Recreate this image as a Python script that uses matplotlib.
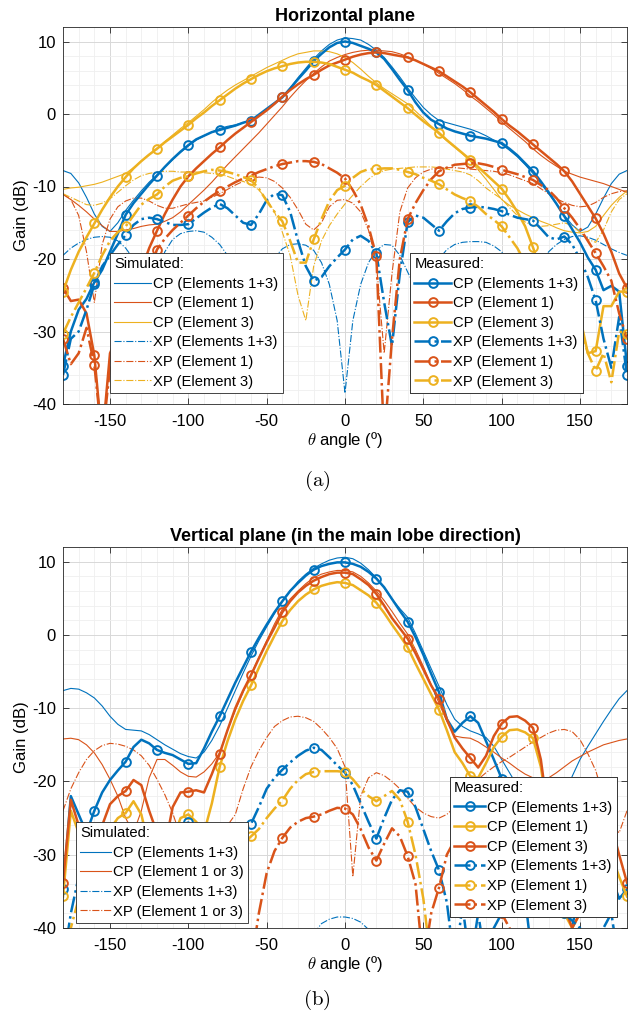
import numpy as np
import matplotlib
matplotlib.use('Agg')
import matplotlib.pyplot as plt
from matplotlib.ticker import MultipleLocator

plt.rcParams['font.family'] = ['Liberation Sans', 'DejaVu Sans']
plt.rcParams['mathtext.fontset'] = 'cm'
plt.rcParams['axes.unicode_minus'] = False

# angle grid, 5 deg steps from -180 to 180
theta = np.arange(-180, 181, 5)

# ---------------- Horizontal plane ----------------
sim_cp13_h = [-7.8, -8.2, -9.5, -11.5, -13.8, -15.5, -16.2, -15.0, -13.3,
              -11.9, -10.6, -9.4, -8.4, -7.3, -6.3, -5.3, -4.4, -3.6,
              -3.0, -2.5, -2.0, -1.7, -1.5, -1.2, -0.9, -0.2, 0.6,
              1.4, 2.4, 3.6, 5.0, 6.3, 7.6, 8.7, 9.6, 10.2,
              10.5, 10.4, 10.2, 9.6, 8.8, 7.8, 6.5, 5.1, 3.6,
              2.2, 0.9, -0.1, -0.9, -1.2, -1.5, -1.8, -2.1, -2.5,
              -3.0, -3.6, -4.2, -5.0, -5.9, -7.0, -8.2, -9.6, -11.0,
              -12.4, -14.0, -15.3, -16.2, -15.6, -13.8, -11.6, -9.6, -8.3,
              -7.8]
sim_cp1_h = [-11.1, -11.8, -12.6, -13.5, -14.5, -15.4, -16.2, -16.2, -16.0,
             -15.8, -15.5, -15.3, -15.2, -14.8, -14.3, -13.5, -12.5, -11.5,
             -10.5, -9.4, -8.2, -7.0, -5.9, -4.8, -3.7, -2.6, -1.4,
             -0.2, 1.0, 2.3, 3.5, 4.6, 5.6, 6.5, 7.3, 7.8,
             8.2, 8.5, 8.7, 8.8, 8.8, 8.7, 8.6, 8.3, 7.9,
             7.4, 6.9, 6.3, 5.6, 4.9, 4.2, 3.4, 2.5, 1.7,
             0.8, -0.1, -1.1, -2.0, -2.9, -3.8, -4.8, -5.7, -6.5,
             -7.2, -7.9, -8.3, -8.7, -9.0, -9.3, -9.6, -10.0, -10.4,
             -10.8]
sim_cp3_h = [-10.4, -10.2, -10.1, -9.9, -9.7, -9.4, -9.0, -8.6, -8.2,
             -7.4, -6.5, -5.6, -4.7, -3.8, -2.9, -2.0, -1.2, -0.3,
             0.6, 1.6, 2.5, 3.3, 4.0, 4.6, 5.2, 5.8, 6.4,
             6.9, 7.4, 7.9, 8.3, 8.5, 8.7, 8.7, 8.6, 8.3,
             7.8, 7.1, 6.2, 5.2, 4.3, 3.5, 2.8, 2.1, 1.4,
             0.4, -0.6, -1.7, -2.8, -3.7, -4.6, -5.5, -6.5, -7.7,
             -9.0, -10.4, -11.8, -12.6, -13.2, -13.8, -14.3, -14.8, -15.2,
             -15.7, -16.1, -16.3, -16.4, -16.2, -15.5, -14.0, -12.6, -11.5,
             -10.6]
sim_xp13_h = [-19.5, -18.5, -17.8, -17.3, -17.0, -16.9, -17.0, -17.5, -18.5,
              -20.0, -22.5, -24.0, -22.0, -19.0, -17.3, -16.5, -16.2, -16.1,
              -16.3, -17.0, -18.0, -19.5, -21.5, -24.0, -26.0, -25.0, -22.0,
              -19.8, -18.6, -18.0, -17.9, -18.1, -18.8, -20.5, -23.5, -28.5,
              -38.5, -28.5, -23.5, -20.5, -18.8, -18.0, -18.1, -19.5, -21.8,
              -24.0, -24.5, -22.0, -20.0, -18.7, -18.0, -17.7, -17.6, -17.6,
              -17.7, -18.2, -19.0, -20.5, -22.0, -23.0, -22.0, -20.5, -19.0,
              -18.0, -17.3, -16.9, -16.8, -17.0, -17.4, -18.0, -18.6, -19.1,
              -19.5]
sim_xp1_h = [-11.0, -11.8, -14.0, -19.0, -26.0, -18.0, -14.5, -12.8, -12.0,
             -11.6, -11.6, -12.0, -12.6, -13.0, -13.0, -12.7, -12.4, -12.2,
             -12.0, -11.5, -11.0, -10.4, -9.8, -9.3, -8.9, -8.7, -8.8,
             -9.3, -10.2, -11.5, -13.2, -15.2, -16.0, -15.0, -12.8, -11.9,
             -11.8, -12.3, -13.5, -16.0, -20.5, -33.0, -22.0, -13.5, -10.2,
             -8.8, -8.0, -7.6, -7.5, -7.4, -7.4, -7.5, -7.6, -7.7,
             -7.8, -7.9, -8.1, -8.4, -8.8, -9.2, -9.6, -10.3, -11.0,
             -11.7, -12.2, -12.6, -12.8, -12.7, -12.2, -11.5, -11.0, -10.7,
             -10.6]
sim_xp3_h = [-11.0, -11.5, -12.0, -12.5, -12.6, -12.3, -11.7, -10.8, -9.9,
             -9.1, -8.5, -8.2, -8.0, -7.9, -7.9, -8.0, -8.0, -8.0,
             -8.1, -8.2, -8.3, -8.6, -9.0, -9.3, -9.7, -10.5, -11.7,
             -13.5, -16.3, -19.5, -25.0, -28.5, -21.0, -17.5, -15.4, -13.8,
             -12.4, -11.2, -10.0, -9.0, -8.2, -7.8, -7.6, -7.5, -7.4,
             -7.3, -7.3, -7.3, -7.4, -7.6, -7.8, -8.0, -8.4, -9.2,
             -10.2, -11.0, -11.7, -12.9, -14.0, -14.9, -15.4, -15.5, -15.4,
             -15.2, -15.0, -15.4, -16.3, -17.3, -17.7, -16.0, -13.5, -11.8,
             -11.0]
meas_cp13_h = [-34.7, -30.0, -27.0, -25.5, -23.2, -21.5, -19.0, -16.5, -13.9,
               -12.3, -11.0, -9.7, -8.5, -7.3, -6.2, -5.2, -4.3, -3.5,
               -3.0, -2.5, -2.2, -1.9, -1.6, -1.2, -0.9, -0.1, 0.7,
               1.5, 2.3, 3.5, 4.8, 6.0, 7.3, 8.3, 9.2, 9.8,
               10.0, 9.8, 9.4, 9.0, 8.5, 7.6, 6.2, 4.7, 3.3,
               1.6, 0.2, -0.8, -1.4, -2.0, -2.4, -2.7, -3.0, -3.2,
               -3.4, -3.7, -4.0, -4.8, -5.7, -6.8, -7.9, -9.3, -10.8,
               -12.4, -14.1, -15.9, -17.7, -19.8, -21.5, -24.3, -23.7, -24.5,
               -34.7]
meas_cp1_h = [-24.0, -25.8, -25.6, -27.5, -33.3, -45.0, -33.0, -30.5, -28.0,
              -25.0, -21.5, -18.5, -16.1, -13.8, -11.8, -10.0, -8.6, -7.5,
              -6.5, -5.5, -4.6, -3.6, -2.7, -1.9, -1.1, -0.3, 0.5,
              1.4, 2.4, 3.3, 4.1, 4.8, 5.4, 6.1, 6.7, 7.1,
              7.5, 7.9, 8.2, 8.4, 8.5, 8.4, 8.2, 8.0, 7.8,
              7.4, 6.9, 6.4, 5.9, 5.2, 4.5, 3.8, 3.0, 2.1,
              1.2, 0.3, -0.7, -1.6, -2.4, -3.3, -4.2, -5.1, -6.0,
              -6.9, -7.9, -9.3, -11.0, -12.7, -14.4, -16.5, -19.0, -22.0,
              -24.0]
meas_cp3_h = [-24.5, -21.5, -19.0, -17.0, -15.1, -13.2, -11.5, -10.0, -8.7,
              -7.5, -6.5, -5.6, -4.8, -3.9, -3.1, -2.3, -1.5, -0.6,
              0.2, 1.1, 1.9, 2.7, 3.5, 4.2, 4.8, 5.4, 5.9,
              6.3, 6.6, 6.9, 7.1, 7.2, 7.2, 7.1, 6.9, 6.5,
              6.1, 5.7, 5.1, 4.6, 4.0, 3.2, 2.4, 1.6, 0.8,
              -0.1, -1.0, -1.8, -2.6, -3.6, -4.5, -5.4, -6.3, -7.3,
              -8.3, -9.3, -10.3, -11.8, -13.5, -15.5, -18.4, -21.5, -24.6,
              -25.5, -26.0, -27.0, -28.0, -33.0, -32.7, -26.5, -26.5, -24.5,
              -24.5]
meas_xp13_h = [-36.0, -31.0, -30.0, -27.0, -23.5, -21.0, -19.5, -18.0, -16.7,
               -15.3, -14.5, -14.3, -14.5, -14.9, -15.3, -15.3, -15.2, -14.4,
               -13.6, -12.9, -12.4, -13.0, -14.0, -15.0, -15.3, -13.8, -11.9,
               -11.0, -11.2, -13.5, -17.5, -21.0, -23.0, -22.5, -21.0, -19.8,
               -18.7, -17.3, -16.8, -17.5, -19.2, -26.0, -32.0, -22.0, -14.9,
               -14.0, -14.3, -15.2, -16.1, -14.8, -13.7, -13.1, -12.9, -12.8,
               -12.9, -13.1, -13.4, -13.9, -14.3, -14.5, -14.7, -15.8, -17.0,
               -17.3, -16.9, -18.0, -20.0, -22.5, -25.7, -31.0, -35.0, -28.0,
               -36.0]
meas_xp1_h = [-31.0, -34.5, -33.0, -29.5, -34.6, -45.0, -35.0, -30.0, -27.0,
              -25.0, -23.0, -21.5, -18.7, -17.2, -16.0, -15.0, -14.0, -13.0,
              -12.1, -11.3, -10.6, -10.0, -9.4, -8.9, -8.5, -8.0, -7.6,
              -7.2, -6.9, -6.7, -6.5, -6.5, -6.6, -6.9, -7.5, -8.1,
              -8.9, -10.5, -12.5, -15.5, -19.6, -45.0, -31.0, -20.0, -14.5,
              -12.3, -10.5, -9.0, -7.9, -7.4, -7.0, -6.9, -6.8, -6.8,
              -7.0, -7.3, -7.7, -8.0, -8.3, -8.7, -9.1, -9.8, -10.5,
              -11.6, -13.0, -14.3, -15.8, -17.5, -19.2, -21.0, -23.0, -27.5,
              -31.0]
meas_xp3_h = [-30.3, -28.0, -26.0, -24.0, -21.9, -19.5, -17.5, -16.3, -15.5,
              -14.0, -12.5, -11.7, -11.1, -10.0, -9.2, -8.8, -8.6, -8.2,
              -7.9, -7.7, -7.8, -8.0, -8.3, -8.7, -9.1, -10.3, -12.0,
              -13.5, -14.8, -17.5, -20.5, -20.5, -17.3, -14.5, -12.0, -10.5,
              -9.9, -8.8, -8.0, -7.6, -7.6, -7.5, -7.5, -7.7, -8.0,
              -8.3, -8.8, -9.2, -9.7, -10.4, -11.1, -11.6, -12.0, -12.8,
              -13.8, -14.6, -15.5, -17.0, -18.5, -20.5, -22.5, -24.0, -25.0,
              -26.0, -27.0, -28.0, -29.0, -33.0, -35.4, -33.0, -37.0, -30.0,
              -30.3]

# ---------------- Vertical plane ----------------
sim_cp13_v = [-7.6, -7.3, -7.4, -7.9, -8.6, -9.7, -11.1, -12.2, -12.9,
              -13.0, -13.1, -13.6, -14.3, -15.0, -15.6, -16.2, -16.6, -16.8,
              -16.0, -14.4, -12.4, -10.0, -7.6, -5.2, -2.9, -0.8, 1.1,
              2.9, 4.6, 6.0, 7.3, 8.3, 9.1, 9.7, 10.2, 10.5,
              10.6, 10.4, 9.8, 8.9, 7.8, 6.4, 4.9, 3.6, 2.4,
              0.2, -2.2, -4.6, -7.0, -9.5, -11.5, -12.5, -13.1, -13.5,
              -14.0, -15.2, -17.0, -18.8, -20.6, -23.0, -27.0, -32.0, -38.0,
              -28.0, -22.5, -19.3, -17.0, -15.2, -13.5, -11.8, -10.2, -8.7,
              -7.6]
sim_cp1or3_v = [-14.2, -14.1, -14.3, -15.0, -16.1, -17.7, -19.7, -22.0, -25.0,
                -27.0, -24.0, -19.5, -17.0, -17.0, -17.8, -18.7, -19.3, -19.4,
                -18.7, -17.6, -16.1, -13.0, -10.3, -7.8, -5.4, -3.1, -0.8,
                1.5, 3.5, 4.9, 6.0, 7.0, 7.8, 8.3, 8.6, 8.8,
                8.8, 8.6, 8.0, 7.1, 6.0, 4.7, 3.2, 1.6, 0.1,
                -2.0, -4.3, -6.8, -9.3, -11.8, -13.8, -14.0, -14.1, -14.6,
                -15.3, -16.0, -16.8, -17.5, -18.3, -19.0, -19.5, -19.7, -19.5,
                -18.8, -18.0, -17.2, -16.6, -16.0, -15.5, -15.0, -14.7, -14.4,
                -14.2]
sim_xp13_v = [-45.0, -45.0, -45.0, -45.0, -45.0, -45.0, -45.0, -45.0, -45.0,
              -45.0, -45.0, -45.0, -45.0, -45.0, -45.0, -45.0, -45.0, -45.0,
              -45.0, -45.0, -45.0, -45.0, -45.0, -45.0, -45.0, -45.0, -45.0,
              -45.0, -45.0, -45.0, -45.0, -44.0, -40.8, -39.4, -38.8, -38.5,
              -38.5, -38.7, -39.2, -40.2, -42.0, -45.0, -45.0, -45.0, -45.0,
              -45.0, -45.0, -45.0, -45.0, -45.0, -45.0, -45.0, -45.0, -45.0,
              -45.0, -45.0, -45.0, -45.0, -45.0, -45.0, -45.0, -45.0, -45.0,
              -45.0, -45.0, -45.0, -45.0, -45.0, -45.0, -45.0, -45.0, -45.0,
              -45.0]
sim_xp1or3_v = [-24.0, -21.0, -18.8, -17.0, -15.8, -15.1, -14.8, -14.9, -15.2,
                -15.7, -16.5, -17.8, -19.7, -21.8, -24.3, -27.5, -31.0, -33.0,
                -30.0, -28.0, -27.0, -26.0, -24.5, -21.0, -18.0, -15.8, -14.0,
                -12.5, -11.7, -11.2, -11.1, -11.3, -11.8, -12.8, -14.0, -15.5,
                -18.0, -33.0, -22.0, -19.5, -18.8, -19.2, -20.0, -21.0, -22.3,
                -23.5, -24.3, -24.8, -25.0, -24.5, -23.5, -22.2, -20.9, -19.7,
                -18.8, -18.0, -17.3, -16.7, -16.0, -15.3, -14.6, -14.0, -13.4,
                -13.0, -12.9, -13.2, -14.3, -16.2, -18.5, -22.0, -26.0, -27.0,
                -24.0]
meas_cp13_v = [-34.7, -22.0, -24.5, -27.0, -24.0, -21.5, -19.8, -18.5, -17.3,
               -15.3, -14.3, -14.8, -15.7, -16.1, -16.4, -17.0, -17.6, -17.5,
               -15.5, -13.2, -11.1, -8.8, -6.5, -4.4, -2.3, -0.4, 1.4,
               3.1, 4.6, 6.0, 7.1, 8.1, 8.9, 9.4, 9.7, 9.9,
               9.9, 9.7, 9.3, 8.6, 7.7, 6.5, 4.9, 3.3, 1.8,
               -0.3, -2.7, -5.3, -7.8, -11.5, -13.2, -12.0, -11.1, -12.0,
               -14.5, -17.0, -19.6, -24.0, -30.0, -36.0, -45.0, -45.0, -45.0,
               -45.0, -45.0, -40.0, -34.0, -32.0, -31.0, -30.0, -33.0, -36.0,
               -34.7]
meas_cp1_v = [-35.7, -24.0, -27.0, -33.0, -38.0, -30.0, -26.5, -25.0, -24.3,
              -22.7, -24.5, -29.0, -35.0, -33.0, -28.0, -25.0, -24.5, -25.5,
              -27.0, -23.0, -18.0, -14.5, -11.5, -9.0, -6.9, -4.5, -2.2,
              -0.1, 1.9, 3.4, 4.6, 5.5, 6.2, 6.7, 7.0, 7.2,
              7.1, 6.8, 6.1, 5.4, 4.4, 3.0, 1.4, -0.1, -1.7,
              -3.9, -6.0, -8.1, -10.2, -13.0, -16.0, -17.5, -19.3, -19.5,
              -17.5, -15.3, -13.9, -13.0, -12.9, -13.3, -14.1, -18.0, -25.0,
              -33.0, -38.0, -40.0, -38.0, -36.0, -34.0, -31.0, -30.0, -33.0,
              -35.7]
meas_cp3_v = [-33.8, -22.5, -26.0, -32.0, -30.0, -26.0, -23.1, -22.0, -21.3,
              -19.8, -20.5, -24.0, -27.0, -29.0, -23.5, -21.5, -21.4, -21.2,
              -21.5, -19.0, -16.2, -13.0, -10.0, -7.6, -5.5, -3.2, -1.0,
              1.0, 3.1, 4.6, 5.8, 6.7, 7.4, 7.9, 8.3, 8.5,
              8.5, 8.3, 7.6, 6.8, 5.6, 4.0, 2.3, 0.9, -0.5,
              -2.5, -4.7, -6.9, -8.7, -11.5, -14.0, -15.5, -16.8, -18.1,
              -16.5, -13.8, -12.1, -11.2, -11.1, -11.7, -12.7, -17.0, -25.0,
              -32.0, -37.0, -40.0, -38.0, -35.0, -32.0, -27.0, -26.0, -30.0,
              -33.8]
meas_xp13_v = [-45.0, -38.0, -33.0, -31.0, -30.0, -29.5, -29.0, -28.5, -28.0,
               -28.0, -28.0, -27.8, -27.5, -27.0, -26.5, -26.0, -25.6, -26.5,
               -27.5, -28.0, -28.0, -27.5, -27.0, -26.5, -25.8, -23.5, -21.0,
               -19.5, -18.4, -17.4, -16.5, -15.8, -15.4, -15.7, -16.7, -17.8,
               -18.8, -20.5, -23.0, -25.5, -27.8, -25.0, -22.5, -21.2, -21.4,
               -23.5, -26.5, -29.5, -32.1, -36.5, -45.0, -37.0, -45.0, -38.0,
               -45.0, -40.0, -38.0, -36.0, -35.0, -34.0, -34.0, -35.0, -36.0,
               -37.0, -38.0, -39.0, -40.0, -45.0, -45.0, -40.0, -38.0, -45.0,
               -45.0]
meas_xp1_v = [-45.0, -40.0, -36.0, -34.0, -33.0, -32.5, -32.0, -32.0, -32.0,
              -32.0, -32.0, -32.5, -33.0, -33.0, -33.0, -33.0, -33.0, -32.5,
              -32.0, -31.5, -31.0, -30.5, -30.0, -28.5, -27.5, -26.5, -25.0,
              -23.7, -22.6, -21.0, -19.8, -19.0, -18.7, -18.6, -18.6, -18.6,
              -18.7, -19.7, -21.0, -22.0, -22.7, -22.0, -21.3, -22.5, -25.5,
              -30.0, -36.0, -45.0, -45.0, -45.0, -45.0, -45.0, -45.0, -45.0,
              -45.0, -45.0, -45.0, -45.0, -45.0, -45.0, -45.0, -45.0, -45.0,
              -45.0, -45.0, -45.0, -45.0, -45.0, -45.0, -45.0, -45.0, -45.0,
              -45.0]
meas_xp3_v = [-45.0, -45.0, -45.0, -45.0, -45.0, -45.0, -45.0, -45.0, -45.0,
              -45.0, -45.0, -45.0, -45.0, -45.0, -45.0, -45.0, -45.0, -45.0,
              -45.0, -45.0, -45.0, -45.0, -45.0, -45.0, -45.0, -38.0, -32.5,
              -29.5, -27.7, -26.3, -25.5, -25.0, -24.8, -24.5, -24.0, -23.6,
              -23.7, -24.5, -26.5, -29.0, -30.8, -28.5, -26.4, -27.5, -30.2,
              -34.0, -45.0, -38.0, -34.5, -30.0, -28.0, -28.0, -30.0, -32.0,
              -34.0, -36.0, -38.0, -40.0, -45.0, -45.0, -45.0, -45.0, -45.0,
              -45.0, -45.0, -45.0, -45.0, -45.0, -45.0, -45.0, -45.0, -45.0,
              -45.0]

blue = '#0072BD'
orange = '#D95319'
yellow = '#EDB120'

SIM_LW = 0.8
MEAS_LW = 1.8


def sim(ax, y, c, ls, label):
    line, = ax.plot(theta, y, color=c, ls=ls, lw=SIM_LW, label=label)
    return line


def meas(ax, y, c, ls, label):
    line, = ax.plot(theta, y, color=c, ls=ls, lw=MEAS_LW, marker='o',
                    markersize=6.3, markerfacecolor='none', markeredgewidth=1.4,
                    markevery=4, label=label)
    return line


def style_axes(ax, title):
    ax.set_xlim(-180, 180)
    ax.set_ylim(-40, 12)
    ax.set_xticks([-150, -100, -50, 0, 50, 100, 150])
    ax.set_yticks([-40, -30, -20, -10, 0, 10])
    ax.xaxis.set_minor_locator(MultipleLocator(10))
    ax.yaxis.set_minor_locator(MultipleLocator(2))
    ax.grid(which='major', color='#d8d8d8', lw=0.7)
    ax.grid(which='minor', color='#efefef', lw=0.6)
    ax.set_axisbelow(True)
    ax.tick_params(which='major', direction='in', top=True, right=True,
                   length=4, width=0.6, labelsize=12, color='#262626', pad=5)
    ax.tick_params(axis='x', which='major', pad=7)
    ax.tick_params(which='minor', length=0)
    for s in ax.spines.values():
        s.set_color('#262626')
        s.set_linewidth(0.6)
    ax.set_title(title, fontsize=13, fontweight='bold', pad=4)
    ax.set_xlabel(r'$\theta$ angle (º)', fontsize=12, labelpad=1)
    ax.set_ylabel('Gain (dB)', fontsize=12, labelpad=2)


def add_legend(ax, handles, title, loc, anchor, hlen):
    leg = ax.legend(handles=handles, title=title, loc=loc, bbox_to_anchor=anchor,
                    fontsize=10.6, title_fontsize=10.6, frameon=True, fancybox=False,
                    edgecolor='#262626', framealpha=1, borderpad=0.3,
                    labelspacing=0.38, handlelength=hlen, handletextpad=0.15,
                    borderaxespad=0, alignment='left')
    leg.get_frame().set_linewidth(0.6)
    ax.add_artist(leg)
    return leg


fig = plt.figure(figsize=(6.28, 10.18), dpi=100)
ax1 = fig.add_axes([63 / 628, 1 - 404 / 1018, 564 / 628, 377 / 1018])
ax2 = fig.add_axes([63 / 628, 1 - 928 / 1018, 564 / 628, 381 / 1018])

# top: horizontal plane
s1 = [sim(ax1, sim_cp13_h, blue, '-', 'CP (Elements 1+3)'),
      sim(ax1, sim_cp1_h, orange, '-', 'CP (Element 1)'),
      sim(ax1, sim_cp3_h, yellow, '-', 'CP (Element 3)'),
      sim(ax1, sim_xp13_h, blue, '-.', 'XP (Elements 1+3)'),
      sim(ax1, sim_xp1_h, orange, '-.', 'XP (Element 1)'),
      sim(ax1, sim_xp3_h, yellow, '-.', 'XP (Element 3)')]
m1 = [meas(ax1, meas_cp13_h, blue, '-', 'CP (Elements 1+3)'),
      meas(ax1, meas_cp1_h, orange, '-', 'CP (Element 1)'),
      meas(ax1, meas_cp3_h, yellow, '-', 'CP (Element 3)'),
      meas(ax1, meas_xp13_h, blue, '-.', 'XP (Elements 1+3)'),
      meas(ax1, meas_xp1_h, orange, '-.', 'XP (Element 1)'),
      meas(ax1, meas_xp3_h, yellow, '-.', 'XP (Element 3)')]
style_axes(ax1, 'Horizontal plane')
add_legend(ax1, s1, 'Simulated:', 'lower left', (0.083, 0.029), 2.5)
add_legend(ax1, m1, 'Measured:', 'lower right', (0.922, 0.029), 2.5)

# bottom: vertical plane
s2 = [sim(ax2, sim_cp13_v, blue, '-', 'CP (Elements 1+3)'),
      sim(ax2, sim_cp1or3_v, orange, '-', 'CP (Element 1 or 3)'),
      sim(ax2, sim_xp13_v, blue, '-.', 'XP (Elements 1+3)'),
      sim(ax2, sim_xp1or3_v, orange, '-.', 'XP (Element 1 or 3)')]
m2 = [meas(ax2, meas_cp13_v, blue, '-', 'CP (Elements 1+3)'),
      meas(ax2, meas_cp1_v, yellow, '-', 'CP (Element 1)'),
      meas(ax2, meas_cp3_v, orange, '-', 'CP (Element 3)'),
      meas(ax2, meas_xp13_v, blue, '-.', 'XP (Elements 1+3)'),
      meas(ax2, meas_xp1_v, yellow, '-.', 'XP (Element 1)'),
      meas(ax2, meas_xp3_v, orange, '-.', 'XP (Element 3)')]
style_axes(ax2, 'Vertical plane (in the main lobe direction)')
add_legend(ax2, s2, 'Simulated:', 'lower left', (0.023, 0.013), 2.05)
add_legend(ax2, m2, 'Measured:', 'lower right', (0.982, 0.029), 2.1)

fig.text(0.505, 1 - 481 / 1018, r'$\mathrm{(a)}$', ha='center', va='center', fontsize=15)
fig.text(0.505, 1 - 1000 / 1018, r'$\mathrm{(b)}$', ha='center', va='center', fontsize=15)

fig.savefig('out.png', dpi=100)
